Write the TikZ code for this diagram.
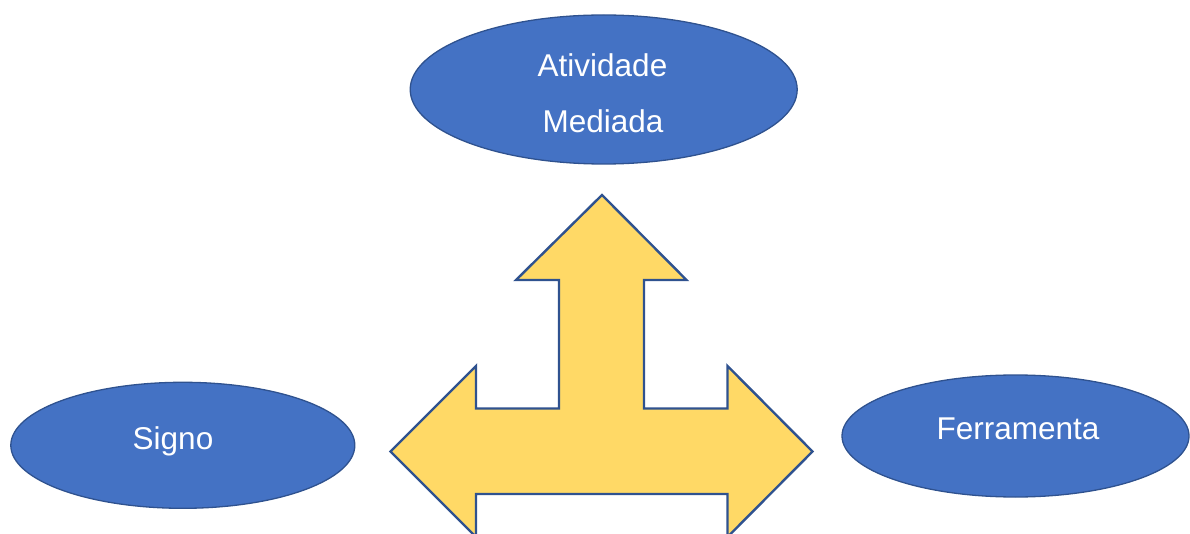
\documentclass[tikz,border=0pt]{standalone}
\usepackage{fontspec}
\setmainfont{Liberation Sans}
\usetikzlibrary{shapes.geometric}
\definecolor{ellfill}{HTML}{4472C4}
\definecolor{ellline}{HTML}{2F528F}
\definecolor{arrfill}{HTML}{FFD966}
\tikzset{
  ell/.style={ellipse, draw=ellline, fill=ellfill, line width=1.3pt, inner sep=0pt},
  lbl/.style={text=white, anchor=base, inner sep=0pt, font=\fontsize{31.5}{38}\selectfont},
  bigarrow/.style={draw=ellline, fill=arrfill, line width=2.4pt, line join=miter}
}
\begin{document}
\begin{tikzpicture}[x=1pt,y=-1pt]
\useasboundingbox (0,0) rectangle (1190,534);
\clip (0,0) rectangle (1190,534);
\node[ell, minimum width=387pt, minimum height=149pt] (top) at (603.7,89.5) {};
\node[ell, minimum width=344pt, minimum height=126pt] (signo) at (182.8,445.3) {};
\node[ell, minimum width=347pt, minimum height=122pt] (ferr) at (1015.5,436) {};
\node[lbl] (t1) at (602.5,77) {Atividade};
\node[lbl] (t2) at (603,132.5) {Mediada};
\node[lbl] (t3) at (173,449.5) {Signo};
\node[lbl] (t4) at (1018,439.5) {Ferramenta};
\draw[bigarrow] (602,195) -- (686.5,280) -- (644,280) -- (644,408.5) -- (727.5,408.5) -- (727.5,366) -- (812.5,451.5) -- (727.5,537) -- (727.5,494) -- (476,494) -- (476,537) -- (390.5,451.5) -- (476,366) -- (476,408.5) -- (559,408.5) -- (559,280) -- (516,280) -- cycle;
\end{tikzpicture}
\end{document}
